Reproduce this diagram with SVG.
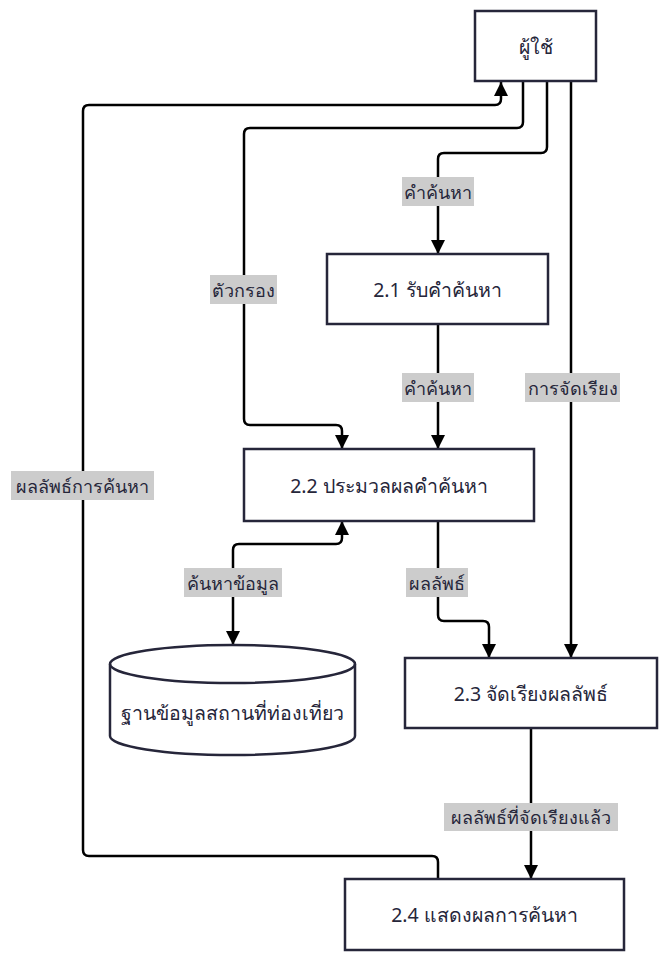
<svg xmlns="http://www.w3.org/2000/svg" width="668" height="964" viewBox="0 0 668 964">
<style>
.box{fill:#ffffff;stroke:#26263a;stroke-width:2.5}
.t{font-family:"Noto Sans","DejaVu Sans",sans-serif;font-size:19.5px;fill:#26263a;text-anchor:middle;dominant-baseline:central}
.lt{font-family:"Noto Sans","DejaVu Sans",sans-serif;font-size:18px;fill:#26263a;text-anchor:middle;dominant-baseline:central}
.lb{fill:#cccccc}
.c{fill:none;stroke:#000000;stroke-width:2.5}
</style>
<defs>
<marker id="ah" markerUnits="userSpaceOnUse" markerWidth="14" markerHeight="14" viewBox="0 0 14 14" refX="14" refY="7" orient="auto-start-reverse">
<path d="M0,0 L14,7 L0,14 z" fill="#000"/>
</marker>
</defs>
<rect width="668" height="964" fill="#ffffff"/>
<g id="connectors">
<path class="c" d="M438,879 V862 Q438,856 432,856 H89 Q83,856 83,850 V111 Q83,105 89,105 H495 Q501,105 501,99 V82" marker-end="url(#ah)"/>
<path class="c" d="M523,81 V122 Q523,128 517,128 H250 Q244,128 244,134 V419 Q244,425 250,425 H336 Q342,425 342,431 V449" marker-end="url(#ah)"/>
<path class="c" d="M547,81 V147 Q547,153 541,153 H444 Q438,153 438,159 V254" marker-end="url(#ah)"/>
<path class="c" d="M438,324 V449" marker-end="url(#ah)"/>
<path class="c" d="M571,81 V658" marker-end="url(#ah)"/>
<path class="c" d="M342,521 V538 Q342,544 336,544 H239 Q233,544 233,550 V645" marker-start="url(#ah)" marker-end="url(#ah)"/>
<path class="c" d="M438,521 V615 Q438,621 444,621 H483 Q489,621 489,627 V658" marker-end="url(#ah)"/>
<path class="c" d="M531,728 V879" marker-end="url(#ah)"/>
<rect class="lb" x="402" y="177" width="72" height="29"/>
<text class="lt" x="438" y="191.5">คำค้นหา</text>
<rect class="lb" x="210" y="275" width="67" height="29"/>
<text class="lt" x="243.5" y="289.5">ตัวกรอง</text>
<rect class="lb" x="402" y="373" width="72" height="29"/>
<text class="lt" x="438" y="387.5">คำค้นหา</text>
<rect class="lb" x="525" y="373" width="95" height="29"/>
<text class="lt" x="572.5" y="387.5">การจัดเรียง</text>
<rect class="lb" x="11" y="471" width="143" height="29"/>
<text class="lt" x="82.5" y="485.5">ผลลัพธ์การค้นหา</text>
<rect class="lb" x="184" y="568" width="98" height="29"/>
<text class="lt" x="233" y="582.5">ค้นหาข้อมูล</text>
<rect class="lb" x="406" y="568" width="62" height="29"/>
<text class="lt" x="437" y="582.5">ผลลัพธ์</text>
<rect class="lb" x="444" y="803" width="174" height="28"/>
<text class="lt" x="531" y="817">ผลลัพธ์ที่จัดเรียงแล้ว</text>
</g>
<g id="user">
<rect class="box" x="475" y="11" width="121" height="70"/>
<text class="t" x="535.5" y="46">ผู้ใช้</text>
</g>
<g id="p21">
<rect class="box" x="327" y="254" width="221" height="70"/>
<text class="t" x="437.5" y="289">2.1 รับคำค้นหา</text>
</g>
<g id="p22">
<rect class="box" x="244" y="449" width="290" height="72"/>
<text class="t" x="389" y="485">2.2 ประมวลผลคำค้นหา</text>
</g>
<g id="db">
<path class="box" d="M110,664 A122.5,19 0 0 1 355,664 V736 A122.5,19 0 0 1 110,736 Z"/>
<path fill="none" stroke="#26263a" stroke-width="2.5" d="M110,664 A122.5,19 0 0 0 355,664"/>
<text class="t" x="232.5" y="712">ฐานข้อมูลสถานที่ท่องเที่ยว</text>
</g>
<g id="p23">
<rect class="box" x="405" y="658" width="252" height="70"/>
<text class="t" x="531" y="693">2.3 จัดเรียงผลลัพธ์</text>
</g>
<g id="p24">
<rect class="box" x="345" y="879" width="279" height="71"/>
<text class="t" x="484.5" y="914.5">2.4 แสดงผลการค้นหา</text>
</g>
</svg>
